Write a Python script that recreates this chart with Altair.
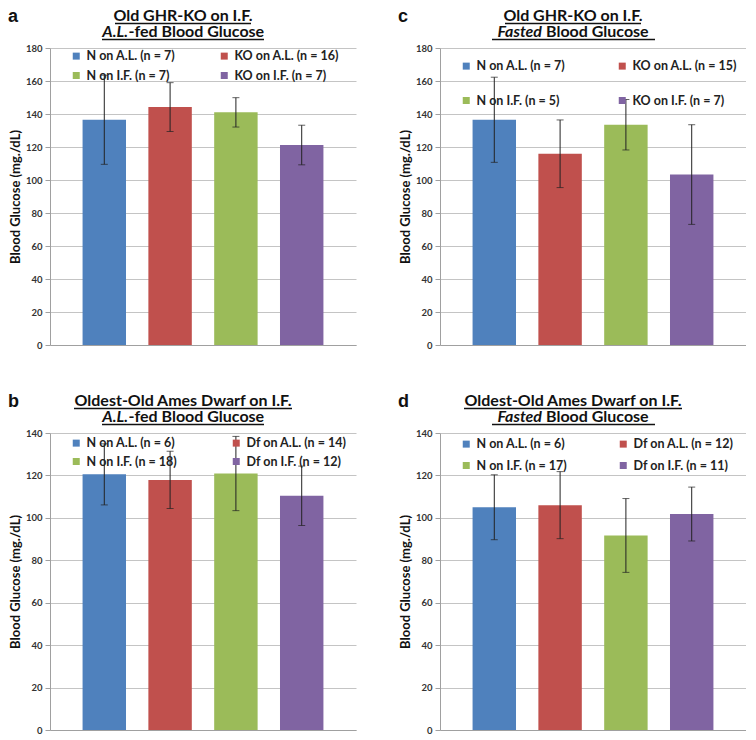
import altair as alt
import pandas as pd

COLORS = ["#4F81BD", "#C0504D", "#9BBB59", "#8064A2"]

# ---- panel a : Old GHR-KO, A.L.-fed ----
a_labels = ["N on A.L. (n = 7)", "KO on A.L. (n = 16)", "N on I.F. (n = 7)", "KO on I.F. (n = 7)"]
a_means = [136.5, 144.2, 141.0, 121.2]
a_errs = [27.0, 14.8, 8.9, 12.0]

# ---- panel c : Old GHR-KO, Fasted ----
c_labels = ["N on A.L. (n = 7)", "KO on A.L. (n = 15)", "N on I.F. (n = 5)", "KO on I.F. (n = 7)"]
c_means = [136.5, 115.9, 133.5, 103.3]
c_errs = [25.8, 20.5, 15.3, 30.2]

# ---- panel b : Oldest-Old Ames Dwarf, A.L.-fed ----
b_labels = ["N on A.L. (n = 6)", "Df on A.L. (n = 14)", "N on I.F. (n = 18)", "Df on I.F. (n = 12)"]
b_means = [120.5, 117.9, 120.9, 110.4]
b_errs = [14.4, 13.5, 17.5, 14.0]

# ---- panel d : Oldest-Old Ames Dwarf, Fasted ----
d_labels = ["N on A.L. (n = 6)", "Df on A.L. (n = 12)", "N on I.F. (n = 17)", "Df on I.F. (n = 11)"]
d_means = [105.0, 106.0, 91.7, 101.8]
d_errs = [15.3, 15.8, 17.4, 12.7]

Y_TITLE = "Blood Glucose (mg./dL)"
W, H = 306, 297
FONT = "Lato"


def panel(letter, line1, ital, rest, labels, means, errs, ymax,
          leg_y, leg_row, leg_col, junction, ul1, ul2):
    df = pd.DataFrame({"label": labels, "mean": means, "err": errs})
    df["lo"] = df["mean"] - df["err"]
    df["hi"] = df["mean"] + df["err"]
    base = alt.Chart(df)
    xenc = alt.X("label:N", sort=labels,
                 scale=alt.Scale(paddingInner=0.34, paddingOuter=0.495),
                 axis=alt.Axis(labels=False, ticks=False, title=None,
                               domainColor="#a0a0a0", grid=False))
    yscale = alt.Scale(domain=[0, ymax], nice=False, zero=True)
    yaxis = alt.Axis(values=list(range(0, ymax + 1, 20)), tickCount=30,
                     title=Y_TITLE, labelOverlap=False,
                     titleFont=FONT, titleFontSize=13, titleFontWeight="bold",
                     titleColor="#111", titlePadding=3,
                     labelFont=FONT, labelFontSize=9.5, labelFontWeight="bold",
                     labelColor="#333", labelPadding=3, tickSize=5,
                     tickColor="#a0a0a0", domainColor="#a0a0a0",
                     gridColor="#c4c4c4", gridWidth=1)
    bars = base.mark_bar().encode(
        x=xenc,
        y=alt.Y("mean:Q", scale=yscale, axis=yaxis),
        color=alt.Color("label:N", sort=labels,
                        scale=alt.Scale(domain=labels, range=COLORS),
                        legend=alt.Legend(title=None, orient="none", legendX=20,
                                          legendY=leg_y, columns=2,
                                          direction="horizontal",
                                          symbolType="square", symbolSize=49,
                                          symbolStrokeWidth=0, labelFont=FONT,
                                          labelFontSize=12.5, labelFontWeight="bold",
                                          labelColor="#222", labelOffset=4,
                                          rowPadding=leg_row, columnPadding=leg_col,
                                          padding=0)),
    )
    rule = base.mark_rule(color="#222", strokeWidth=1).encode(
        x=alt.X("label:N", sort=labels), y=alt.Y("lo:Q", scale=yscale), y2="hi:Q")
    caps = base.transform_fold(["lo", "hi"], as_=["k", "v"]).mark_tick(
        color="#222", thickness=1, size=7).encode(
        x=alt.X("label:N", sort=labels), y=alt.Y("v:Q", scale=yscale))

    one = lambda t: alt.Chart(pd.DataFrame({"t": [t]}))
    t_letter = one(letter).mark_text(font="Liberation Sans", fontWeight="bold",
                                     fontSize=18, align="left", baseline="alphabetic",
                                     color="#111").encode(
        text="t:N", x=alt.value(-42), y=alt.value(-26))
    t1 = one(line1).mark_text(font=FONT, fontWeight="bold", fontSize=16,
                              align="center", baseline="alphabetic", color="#111").encode(
        text="t:N", x=alt.value(133), y=alt.value(-27))
    t2a = one(ital).mark_text(font=FONT, fontWeight="bold", fontStyle="italic",
                              fontSize=16, align="right", baseline="alphabetic",
                              color="#111").encode(
        text="t:N", x=alt.value(junction), y=alt.value(-11))
    t2b = one(rest).mark_text(font=FONT, fontWeight="bold", fontSize=16,
                              align="left", baseline="alphabetic", color="#111").encode(
        text="t:N", x=alt.value(junction + (4 if rest[0] != "-" else 0.5)),
        y=alt.value(-11))
    u1 = one(line1).mark_rule(color="#111", strokeWidth=1.3).encode(
        x=alt.value(ul1[0]), x2=alt.value(ul1[1]), y=alt.value(-24.5))
    u2 = one(rest).mark_rule(color="#111", strokeWidth=1.3).encode(
        x=alt.value(ul2[0]), x2=alt.value(ul2[1]), y=alt.value(-8.5))
    return alt.layer(bars, rule, caps, t_letter, t1, t2a, t2b, u1, u2).properties(
        width=W, height=H)


pa = panel("a", "Old GHR-KO on I.F.", "A.L.", "-fed Blood Glucose",
           a_labels, a_means, a_errs, 180, 1.75, 6.5, 42, 78, (65, 201), (52, 214))
pc = panel("c", "Old GHR-KO on I.F.", "Fasted", "Blood Glucose",
           c_labels, c_means, c_errs, 180, 11.75, 21.5, 50, 102, (65, 201), (52, 215))
pb = panel("b", "Oldest-Old Ames Dwarf on I.F.", "A.L.", "-fed Blood Glucose",
           b_labels, b_means, b_errs, 140, 3.75, 5.5, 53, 78, (24, 242), (52, 214))
pd_ = panel("d", "Oldest-Old Ames Dwarf on I.F.", "Fasted", "Blood Glucose",
            d_labels, d_means, d_errs, 140, 4.75, 8.5, 50, 102, (24, 242), (52, 215))

chart = alt.concat(pa, pc, pb, pd_, columns=2,
                   spacing=alt.RowColnumber(row=43, column=42)).resolve_scale(
    color="independent", x="independent", y="independent").resolve_legend(
    color="independent").properties(padding=0).configure_view(stroke=None)

chart.save("out.html", embed_options={"renderer": "svg", "actions": False})
